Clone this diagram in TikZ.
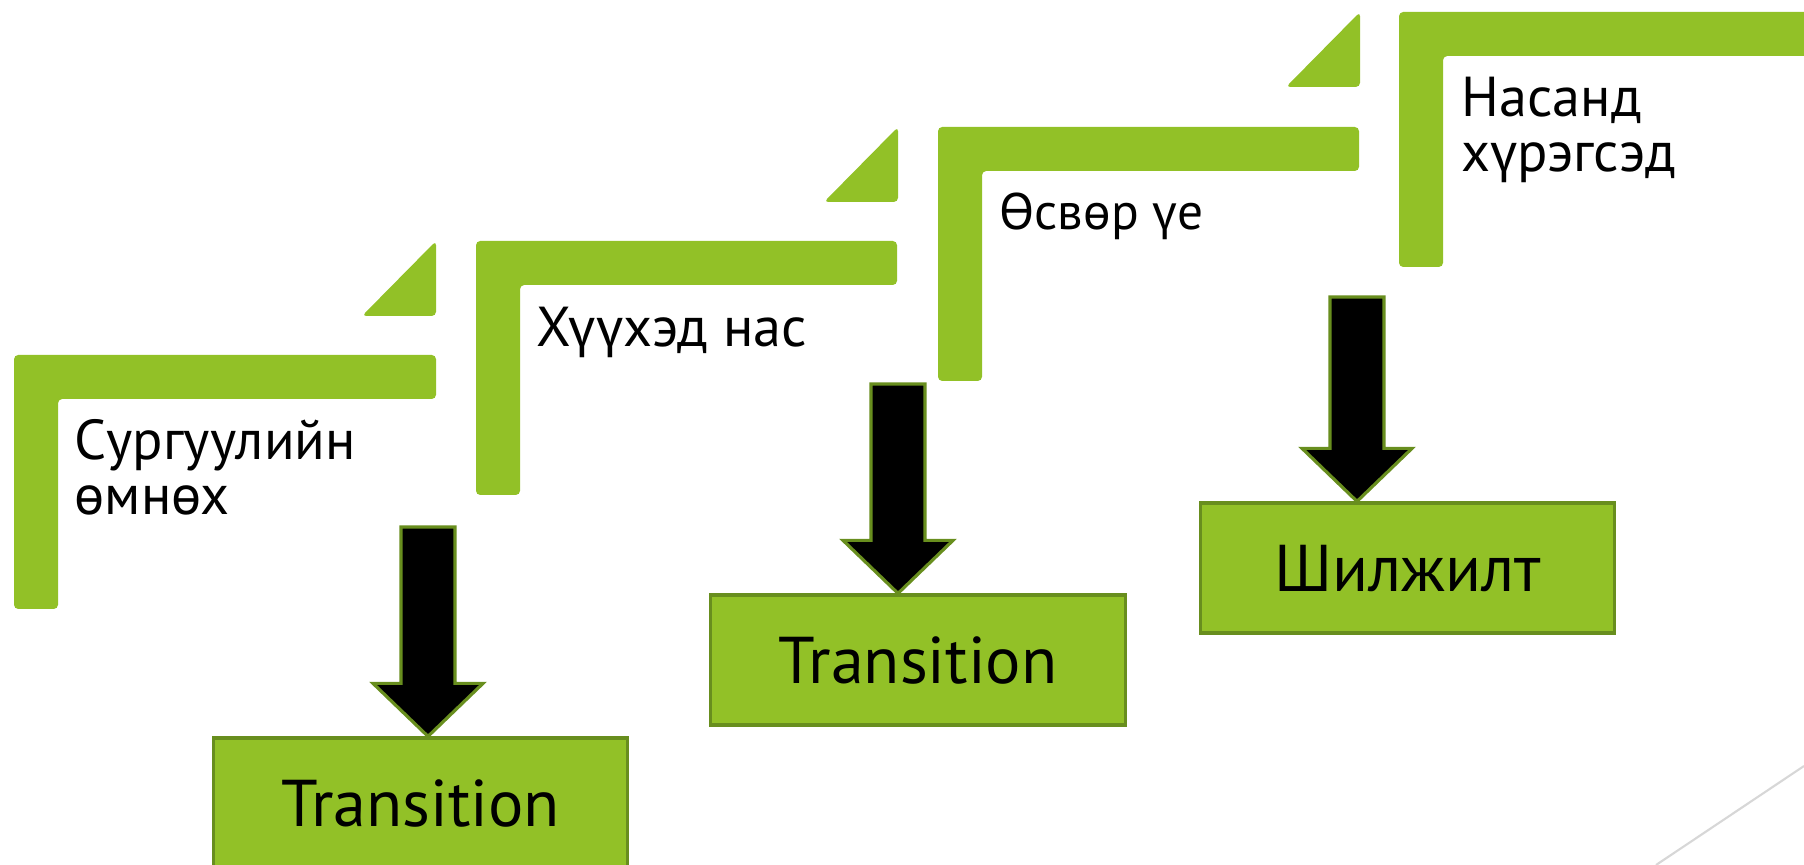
\documentclass[tikz,border=0pt]{standalone}
\usepackage{fontspec}
\setmainfont{PT Sans}
\usetikzlibrary{calc}
\definecolor{stairgreen}{RGB}{146,193,39}
\definecolor{stairdark}{RGB}{104,142,30}
\definecolor{wispgray}{RGB}{215,215,215}

% one step of the stair: left x, top y, right x, bottom y (pixels)
\newcommand{\stairstep}[4]{%
  \fill[stairgreen,rounded corners=1.2pt] (#1,#2) -- (#3,#2) -- (#3,#2+44) -- (#1+44,#2+44) -- (#1+44,#4) -- (#1,#4) -- cycle;}
% small corner triangle: right x, top y
\newcommand{\stairwedge}[2]{%
  \fill[stairgreen,rounded corners=1.2pt] (#1-74,#2+75) -- (#1,#2+75) -- (#1,#2) -- cycle;}
% block arrow from a coordinate down to a point
\newcommand{\blockdown}[2]{%
  \draw[blockarrow] ($(#1)+(-27,0)$) -- ($(#1)+(27,0)$) -- ($(#2)+(27,-53)$) -- ($(#2)+(55,-53)$) -- (#2) -- ($(#2)+(-55,-53)$) -- ($(#2)+(-27,-53)$) -- cycle;}

\begin{document}
\begin{tikzpicture}[x=0.01cm,y=-0.01cm,
    agetext/.style={anchor=base west,inner sep=0pt,align=left,text=black,
      font=\fontsize{16}{15.9}\selectfont},
    transbox/.style={draw=stairdark,fill=stairgreen,line width=0.9pt,
      minimum width=4.14cm,minimum height=1.3cm,inner sep=0pt,text=black,
      font=\fontsize{18.8}{20}\selectfont},
    blockarrow/.style={draw=stairdark,fill=black,line width=0.9pt,line join=miter}]
  \clip (0,0) rectangle (1804,865);

  % stair steps
  \stairstep{14}{355}{436}{609}
  \stairstep{476}{241}{897}{495}
  \stairstep{938}{127}{1359}{381}
  \stairstep{1399}{12}{1820}{267}
  \stairwedge{436}{241}
  \stairwedge{898}{127}
  \stairwedge{1360}{12}

  % age labels
  \node[agetext] (preschool) at (74,515) {Сургуулийн\\өмнөх};
  \node[agetext] (child) at (536,347) {Хүүхэд нас};
  \node[agetext,font=\fontsize{14.6}{15}\selectfont] (teen) at (999,230) {Өсвөр үе};
  \node[agetext] (adult) at (1461,172) {Насанд\\хүрэгсэд};

  % transition boxes
  \node[transbox] (trans1) at (420.5,803) {Transition};
  \node[transbox] (trans2) at (918,660) {Transition};
  \node[transbox] (trans3) at (1407.5,568) {Шилжилт};

  % arrows
  \coordinate (arr1) at (428,527);
  \coordinate (arr2) at (898,384);
  \coordinate (arr3) at (1357,297);
  \coordinate (tip1) at (arr1 |- trans1.north);
  \coordinate (tip2) at (arr2 |- trans2.north);
  \coordinate (tip3) at (arr3 |- trans3.north);
  \blockdown{arr1}{tip1}
  \blockdown{arr2}{tip2}
  \blockdown{arr3}{tip3}

  % thin background line
  \draw[wispgray,line width=0.6pt] (1656,865) -- (1804,766);
\end{tikzpicture}
\end{document}
